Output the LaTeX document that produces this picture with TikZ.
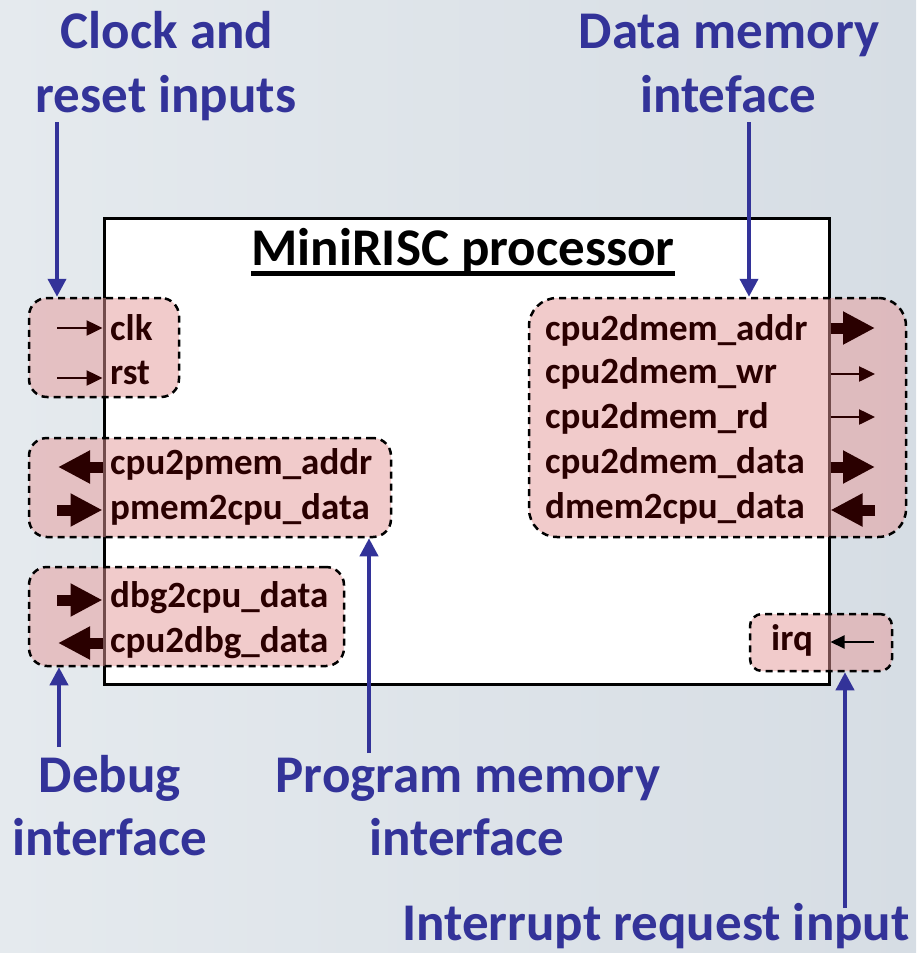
\documentclass[tikz,border=0pt]{standalone}
\usepackage{fontspec}
\setmainfont{Carlito}
\usetikzlibrary{arrows.meta}
\definecolor{bgA}{RGB}{229,234,238}
\definecolor{bgB}{RGB}{214,221,228}
\definecolor{lblblue}{RGB}{51,51,153}
\definecolor{sig}{RGB}{42,0,0}
\definecolor{grppink}{RGB}{229,153,153}
\tikzset{
  lbl/.style={font=\bfseries\fontsize{53}{63}\selectfont, text=lblblue, anchor=base, inner sep=0pt},
  sigtxt/.style={font=\bfseries\fontsize{37}{44}\selectfont, text=sig, anchor=base west, inner sep=0pt},
  grp/.style={draw=black, dash pattern=on 7pt off 5pt, line width=2.5pt, fill=grppink,
              fill opacity=0.5, inner sep=0pt, rounded corners=18pt},
  pointer/.style={draw=lblblue, line width=4pt, -{Triangle[width=18pt,length=18pt]}},
  bit/.style={draw=sig, line width=2.5pt, -{Triangle[width=15pt,length=16pt]}},
  bus/.style={draw=sig, line width=11pt, -{Triangle[width=31pt,length=32pt]}},
  irqline/.style={draw=black, line width=2pt, -{Triangle[width=13pt,length=14pt]}},
}
\begin{document}
\begin{tikzpicture}[x=1pt,y=-1pt]
  % backdrop
  \shade[left color=bgA, right color=bgB] (0,0) rectangle (916,953);
  \useasboundingbox (0,0) rectangle (916,953);

  % processor block
  \node[draw=black, fill=white, line width=3pt, minimum width=725pt, minimum height=466pt,
        inner sep=0pt] (cpu) at (466.5,451.5) {};
  \node[font=\bfseries\fontsize{53}{63}\selectfont, anchor=base, inner sep=0pt] (title)
        at (463,265) {MiniRISC processor};
  \draw[line width=5pt] ([yshift=-8pt]title.base west) -- ([yshift=-8pt]title.base east);

  % port groups
  \node[grp, minimum width=150pt, minimum height=99pt] (gclk) at (104,347.5) {};
  \node[grp, minimum width=362pt, minimum height=99pt] (gpm) at (210,487.5) {};
  \node[grp, minimum width=315pt, minimum height=99pt] (gdbg) at (186.5,616.5) {};
  \node[grp, minimum width=377pt, minimum height=239pt, rounded corners=28pt] (gdm) at (717.5,417.5) {};
  \node[grp, minimum width=142pt, minimum height=57pt, rounded corners=12pt] (girq) at (821,642.5) {};

  % port names
  \node[sigtxt] (tclk) at (110,340) {clk};
  \node[sigtxt] (trst) at (110,384) {rst};
  \node[sigtxt] (tpa) at (110,474) {cpu2pmem\_addr};
  \node[sigtxt] (tpd) at (110,519) {pmem2cpu\_data};
  \node[sigtxt] (tdi) at (110,607) {dbg2cpu\_data};
  \node[sigtxt] (tdo) at (110,652) {cpu2dbg\_data};
  \node[sigtxt] (tda) at (545,340) {cpu2dmem\_addr};
  \node[sigtxt] (tdw) at (545,383) {cpu2dmem\_wr};
  \node[sigtxt] (tdr) at (545,428) {cpu2dmem\_rd};
  \node[sigtxt] (tdd) at (545,473) {cpu2dmem\_data};
  \node[sigtxt] (tdm) at (545,518) {dmem2cpu\_data};
  \node[sigtxt] (tirq) at (771,650) {irq};

  % port arrows, left side
  \coordinate (aclk) at (57,328);
  \coordinate (arst) at (57,378);
  \coordinate (apa) at (58,467);
  \coordinate (apd) at (57,510);
  \coordinate (adi) at (57,600);
  \coordinate (ado) at (58,643);
  \draw[bit] (aclk) -- (aclk -| cpu.west);
  \draw[bit] (arst) -- (arst -| cpu.west);
  \draw[bus] (apa -| cpu.west) -- (apa);
  \draw[bus] (apd) -- (apd -| cpu.west);
  \draw[bus] (adi) -- (adi -| cpu.west);
  \draw[bus] (ado -| cpu.west) -- (ado);

  % port arrows, right side
  \coordinate (ada) at (875,328);
  \coordinate (adw) at (875,374);
  \coordinate (adr) at (875,417);
  \coordinate (add) at (875,467);
  \coordinate (adm) at (875,510);
  \coordinate (airq) at (874,642);
  \draw[bus] (ada -| cpu.east) -- (ada);
  \draw[bit] (adw -| cpu.east) -- (adw);
  \draw[bit] (adr -| cpu.east) -- (adr);
  \draw[bus] (add -| cpu.east) -- (add);
  \draw[bus] (adm) -- (adm -| cpu.east);
  \draw[irqline] (airq) -- (airq -| cpu.east);

  % callouts
  \node[lbl] (clkA) at (167,48) {Clock and};
  \node[lbl] (clkB) at (166,112) {reset inputs};
  \node[lbl] (dmA) at (729,48) {Data memory};
  \node[lbl] (dmB) at (728,112) {inteface};
  \node[lbl] (dbgA) at (110,792) {Debug};
  \node[lbl] (dbgB) at (110,855) {interface};
  \node[lbl] (pmA) at (468,792) {Program memory};
  \node[lbl] (pmB) at (467,855) {interface};
  \node[lbl] (irqL) at (656,940) {Interrupt request input};

  \coordinate (pclk) at (57,122);
  \coordinate (pdm) at (749,122);
  \coordinate (ppm) at (369,753);
  \coordinate (pdbg) at (59,747);
  \coordinate (pirq) at (845,908);
  \draw[pointer] (pclk) -- (pclk |- gclk.north);
  \draw[pointer] (pdm) -- (pdm |- gdm.north);
  \draw[pointer] (ppm) -- (ppm |- gpm.south);
  \draw[pointer] (pdbg) -- (pdbg |- gdbg.south);
  \draw[pointer] (pirq) -- (pirq |- girq.south);
\end{tikzpicture}
\end{document}
